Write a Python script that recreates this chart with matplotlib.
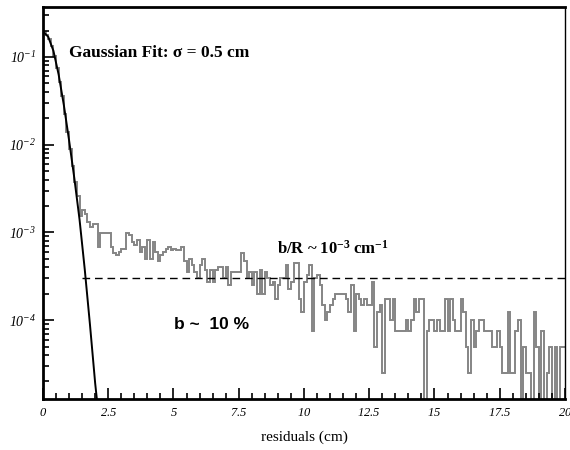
import numpy as np
import matplotlib.pyplot as plt
from matplotlib.ticker import MultipleLocator, LogLocator, FuncFormatter, NullFormatter

# histogram of residuals: 0.1 cm bins from 0 to 20 cm, counts per bin
bin_width = 0.1
count_norm = 2.5e-5   # density per entry
counts = [
    7700, 7100, 6340, 5390, 4090, 3030, 2100, 1420, 895, 565,
    360, 230, 150, 105, 62, 72, 65,
    52, 46, 50, 50, 27, 39, 39, 39, 39, 27, 23, 22, 24, 26, 26, 39, 37, 31,
    29, 33, 24, 27, 20, 33, 20, 31, 24, 19, 22, 24, 26, 27, 25, 26,
    25, 25, 27, 19, 14, 20, 17, 14, 12, 17, 20, 15, 11, 15, 11, 15, 16, 16,
    12, 16, 10, 14, 14, 14, 14, 23, 19, 12, 14, 10, 14, 8, 15, 8, 14, 12,
    10, 11,
    7, 10, 12, 12, 17, 9, 11, 18, 18, 7, 5, 11, 13, 17, 3, 12, 13, 10, 6, 4,
    5, 6, 7, 8, 8, 8, 8, 7, 5, 10, 3, 8, 7, 6,
    7, 6, 6, 11, 2, 5, 6, 1, 7, 7, 4, 7, 3, 3, 3, 3, 4, 3, 4, 7, 5, 7, 7, 0,
    3, 4, 4, 3, 4, 3, 3, 7, 3, 7, 4, 3, 3, 7,
    5, 2, 1, 4, 2, 3, 4, 4, 3, 3, 3, 2, 2, 3, 2, 1, 1, 5, 1, 1, 3, 4, 0, 2,
    1, 1, 0, 5, 2, 0, 3, 0, 1, 2, 0, 2, 0, 2, 2,
]

# gaussian fit curve
fit_x = [0.0, 0.2, 0.4, 0.6, 0.8, 1.0, 1.2, 1.4, 1.6, 1.8, 2.0, 2.1]
fit_y = [0.195, 0.17, 0.1175, 0.063, 0.0282, 0.0112, 0.00417, 0.00141,
         0.00038, 8.9e-5, 1.9e-5, 1.0e-5]

# flat background level
bkg_level = 3.0e-4
bkg_start = 1.5

plt.rcParams['font.family'] = 'Liberation Serif'
plt.rcParams['mathtext.fontset'] = 'custom'
plt.rcParams['mathtext.rm'] = 'Liberation Serif:italic'
plt.rcParams['mathtext.it'] = 'Liberation Serif:italic'
plt.rcParams['mathtext.bf'] = 'Liberation Serif:bold'

fig = plt.figure(figsize=(5.7, 4.5), dpi=100)
ax = fig.add_axes([0.0754, 0.1133, 0.9158, 0.8711])

vals = np.array(counts) * count_norm
edges = np.arange(len(counts) + 1) * bin_width
ax.stairs(vals, edges, baseline=None, color='#858585', lw=1.4)
ax.plot(fit_x, fit_y, color='black', lw=1.4)
ax.hlines(bkg_level, bkg_start, 20, colors='black', linestyles=(0, (5.5, 3.5)), lw=1)

ax.set_yscale('log')
ax.set_xlim(0, 20)
ax.set_ylim(1.26e-5, 0.371)

ax.xaxis.set_major_locator(MultipleLocator(2.5))
ax.xaxis.set_minor_locator(MultipleLocator(0.5))
ax.xaxis.set_major_formatter(FuncFormatter(lambda v, p: r'$%g$' % v))
ax.yaxis.set_major_locator(LogLocator(base=10))
ax.yaxis.set_minor_locator(LogLocator(base=10, subs=range(2, 10)))
ax.yaxis.set_minor_formatter(NullFormatter())
ax.yaxis.set_major_formatter(FuncFormatter(lambda v, p: r'$10^{%d}$' % round(np.log10(v))))

ax.tick_params(which='both', direction='in', top=False, right=False, width=1.2)
ax.tick_params(which='major', length=8, pad=6)
ax.tick_params(axis='x', which='major', labelsize=9)
ax.tick_params(axis='y', which='major', labelsize=10, pad=5)
ax.tick_params(which='minor', length=4)

for s in ['left', 'bottom', 'top']:
    ax.spines[s].set_linewidth(2)
ax.spines['right'].set_linewidth(1)

ax.set_xlabel('residuals (cm)', fontsize=11, labelpad=8)

ax.text(1.0, 0.1, 'Gaussian Fit: σ = 0.5 cm', fontweight='bold', fontsize=12.5,
        va='baseline')
ax.text(8.97, 5.76e-4, r'b/R ~ $\mathbf{10^{-3}}$ cm$^{\mathbf{-1}}$',
        fontweight='bold', fontsize=12, va='baseline')
ax.text(5.02, 7.83e-5, 'b ~  10 %', family='Liberation Sans', fontweight='bold',
        fontsize=12.5, va='baseline')

fig.savefig('out.png', dpi=100)
